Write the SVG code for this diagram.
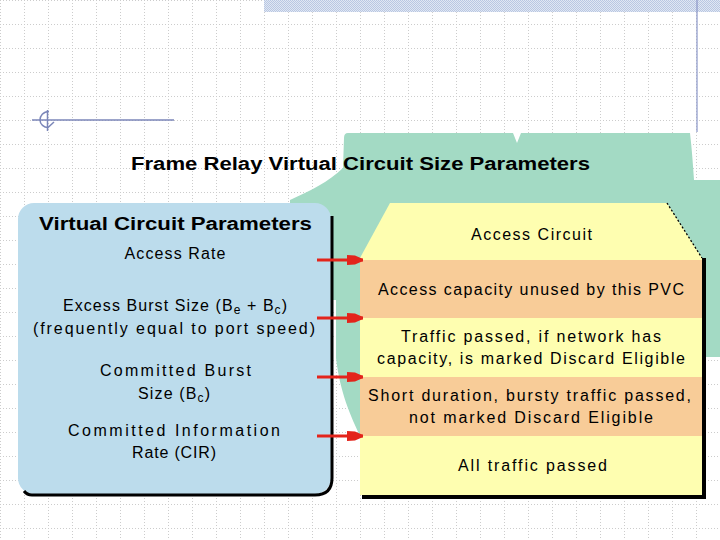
<svg xmlns="http://www.w3.org/2000/svg" width="720" height="540" viewBox="0 0 720 540">
  <style>
    .t { font-family: "Liberation Sans", Arial, sans-serif; font-size: 16px; text-anchor: middle; fill: #000; }
    .b { font-weight: bold; font-size: 18px; }
    .band-y { fill: #fefeb0; }
    .band-o { fill: #f8cc98; }
    .arrow { stroke: #e3241b; stroke-width: 3; fill: none; marker-end: url(#ah); }
  </style>
  <defs>
    <pattern id="grid" width="24" height="24" patternUnits="userSpaceOnUse">
      <path d="M0.5,0 V24 M0,0.5 H24" stroke="#cccccc" stroke-width="1" stroke-dasharray="1,2" fill="none"/>
    </pattern>
    <pattern id="hatch" width="2" height="2" patternUnits="userSpaceOnUse">
      <rect width="2" height="2" fill="#e0e7f3"/>
      <rect width="1" height="1" fill="#b9c7e2"/>
      <rect x="1" y="1" width="1" height="1" fill="#b9c7e2"/>
    </pattern>
    <marker id="ah" markerWidth="16" markerHeight="12" refX="16" refY="6" orient="auto" markerUnits="userSpaceOnUse">
      <path d="M0,1 L8,1.5 L16,5 L16,7 L8,10.5 L0,11 Z" fill="#e3241b"/>
    </marker>
  </defs>

  <!-- background -->
  <g id="background">
    <rect width="720" height="540" fill="#ffffff"/>
    <rect width="720" height="540" fill="url(#grid)"/>
    <rect x="264" y="0" width="456" height="12" fill="url(#hatch)"/>
    <line x1="697" y1="0" x2="697" y2="132" stroke="#8a96c8" stroke-width="1.2"/>
    <line x1="32" y1="120" x2="174" y2="120" stroke="#7b86b8" stroke-width="1.5"/>
    <line x1="47.5" y1="110" x2="47.5" y2="131" stroke="#7b86b8" stroke-width="1.5"/>
    <path d="M49,111.5 C43,111.5 40,116 40,120 C40,124.5 44,127.5 48,127.5 L54,122" stroke="#7b86b8" stroke-width="1.5" fill="none"/>
  </g>

  <!-- green cloud -->
  <g id="cloud">
    <path d="M348,133 H513 L517,143 L521,133 H690 C692,150 693,166 694,180 H720 V357 H704 V440 H362 C350,415 340,392 336,358 V300 H290 V200 C312,190 328,182 343,168 L344,138 Q344,133 348,133 Z" fill="#a3dac4"/>
  </g>

  <!-- title -->
  <g id="title">
    <text class="t b" x="360.5" y="170" textLength="459" lengthAdjust="spacingAndGlyphs">Frame Relay Virtual Circuit Size Parameters</text>
  </g>

  <!-- Virtual Circuit Parameters box -->
  <g id="node-vc-parameters">
    <rect x="18" y="203" width="313" height="291" rx="16" ry="16" fill="#bcdcec"/>
    <path d="M332,216 V478 Q332,495 315,495 H32 Q27,495 24,491" stroke="#000" stroke-width="3" fill="none"/>
    <text class="t b" x="175.5" y="230" textLength="273" lengthAdjust="spacingAndGlyphs">Virtual Circuit Parameters</text>
    <text class="t" x="175" y="259" textLength="101" lengthAdjust="spacing">Access Rate</text>
    <text class="t" x="175" y="311" textLength="224" lengthAdjust="spacing">Excess Burst Size (B<tspan dy="3" font-size="12">e</tspan><tspan dy="-3"> + B</tspan><tspan dy="3" font-size="12">c</tspan><tspan dy="-3">)</tspan></text>
    <text class="t" x="174" y="334" textLength="282" lengthAdjust="spacing">(frequently equal to port speed)</text>
    <text class="t" x="175.5" y="376" textLength="151" lengthAdjust="spacing">Committed Burst</text>
    <text class="t" x="174" y="399" textLength="72" lengthAdjust="spacing">Size (B<tspan dy="3" font-size="12">c</tspan><tspan dy="-3">)</tspan></text>
    <text class="t" x="174" y="436" textLength="212" lengthAdjust="spacing">Committed Information</text>
    <text class="t" x="174" y="458" textLength="84" lengthAdjust="spacing">Rate (CIR)</text>
  </g>

  <!-- Access Circuit box -->
  <g id="node-access-circuit">
    <path d="M390,203 H667 L702,258 V495 H360 V258 Z" class="band-y"/>
    <rect x="360" y="260" width="342" height="58" class="band-o"/>
    <rect x="360" y="377" width="342" height="59" class="band-o"/>
    <path d="M667,203 L702,258" stroke="#000" stroke-width="1.3" stroke-dasharray="2,2" fill="none"/>
    <path d="M704,258 V497 H362" stroke="#000" stroke-width="4" fill="none"/>
    <text class="t" x="531.5" y="240" textLength="121" lengthAdjust="spacing">Access Circuit</text>
    <text class="t" x="531" y="295" textLength="306" lengthAdjust="spacing">Access capacity unused by this PVC</text>
    <text class="t" x="531" y="342" textLength="260" lengthAdjust="spacing">Traffic passed, if network has</text>
    <text class="t" x="531" y="364" textLength="308" lengthAdjust="spacing">capacity, is marked Discard Eligible</text>
    <text class="t" x="529.5" y="401" textLength="323" lengthAdjust="spacing">Short duration, bursty traffic passed,</text>
    <text class="t" x="531" y="423" textLength="244" lengthAdjust="spacing">not marked Discard Eligible</text>
    <text class="t" x="532.5" y="471" textLength="149" lengthAdjust="spacing">All traffic passed</text>
  </g>

  <!-- connectors -->
  <g id="connectors">
    <line class="arrow" x1="317" y1="260" x2="363" y2="260"/>
    <line class="arrow" x1="317" y1="318" x2="363" y2="318"/>
    <line class="arrow" x1="317" y1="377" x2="363" y2="377"/>
    <line class="arrow" x1="317" y1="436" x2="363" y2="436"/>
  </g>
</svg>
